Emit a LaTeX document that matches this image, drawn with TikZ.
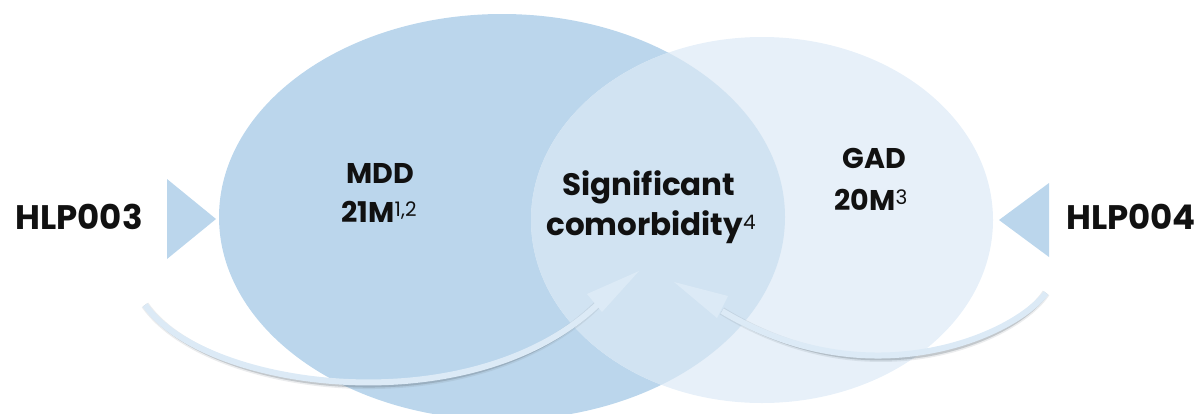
\documentclass[tikz,border=0pt]{standalone}
\usepackage{fontspec}
\setmainfont{Poppins}
\definecolor{mddblue}{HTML}{BBD6EC}
\definecolor{gadblue}{HTML}{E7F0F9}
\definecolor{midblue}{HTML}{D1E3F2}
\definecolor{arrowblue}{HTML}{DCEAF6}
\definecolor{txt}{HTML}{111111}
\definecolor{shade}{HTML}{6E7A84}
\newcommand{\supr}[1]{\raisebox{6pt}{\fontsize{20pt}{20pt}\fontseries{m}\selectfont #1}}
\begin{document}
\begin{tikzpicture}[x=1pt,y=-1pt,
  lbl/.style={inner sep=0pt,anchor=base,text=txt,font=\fontsize{28.5pt}{30pt}\bfseries\selectfont},
  biglbl/.style={lbl,font=\fontsize{31pt}{33pt}\bfseries\selectfont},
  drug/.style={lbl,font=\fontsize{34pt}{36pt}\bfseries\selectfont},
  shaft/.style={draw=arrowblue,line width=6pt,line cap=butt},
  shadowA/.style={draw=shade,line width=8pt,opacity=0.14},
  shadowB/.style={draw=shade,line width=5pt,opacity=0.32},
  head/.style={fill=arrowblue,draw=none},
  pointer/.style={fill=mddblue,draw=none}]
\useasboundingbox (0,0) rectangle (1198,413);
\clip (0,0) rectangle (1198,413);
% ellipses
\fill[mddblue] (502,217) ellipse [x radius=283, y radius=203];
\fill[gadblue] (762,220) ellipse [x radius=231, y radius=183];
\begin{scope}
  \clip (502,217) ellipse [x radius=283, y radius=203];
  \fill[midblue] (762,220) ellipse [x radius=231, y radius=183];
\end{scope}
% pointer triangles
\fill[pointer] (167,179) -- (216,219) -- (167,259) -- cycle;
\fill[pointer] (1049,183) -- (999,220) -- (1049,257) -- cycle;
% curved arrows
\coordinate (L0) at (145,305);
\coordinate (L1) at (597,305);
\coordinate (R0) at (1046,293);
\coordinate (R1) at (722,311);
\begin{scope}[shift={(1.5,3.5)}]
  \draw[shadowA] (L0) .. controls (205,390) and (470,425) .. (L1);
  \draw[shadowB] (L0) .. controls (205,390) and (470,425) .. (L1);
  \draw[shadowA] (R0) .. controls (1015,335) and (870,400) .. (R1);
  \draw[shadowB] (R0) .. controls (1015,335) and (870,400) .. (R1);
\end{scope}
\draw[shaft] (L0) .. controls (205,390) and (470,425) .. (L1);
\draw[shaft] (R0) .. controls (1015,335) and (870,400) .. (R1);
\fill[head] (639,271) -- (587,294) -- (602,312) -- cycle;
\fill[head] (674,282) -- (728,296) -- (717,318) -- cycle;
% labels
\node[drug] (hlp3) at (79,229) {HLP003};
\node[drug] (hlp4) at (1131,229) {HLP004};
\node[lbl] (mdd) at (380,183) {MDD};
\node[lbl] (mddn) at (379,222) {21M\supr{1,2}};
\node[lbl] (gad) at (874,168) {GAD};
\node[lbl] (gadn) at (871,210) {20M\supr{3}};
\node[biglbl] (sig) at (649,195) {Significant};
\node[biglbl] (com) at (651,235) {comorbidity\supr{4}};
\end{tikzpicture}
\end{document}
